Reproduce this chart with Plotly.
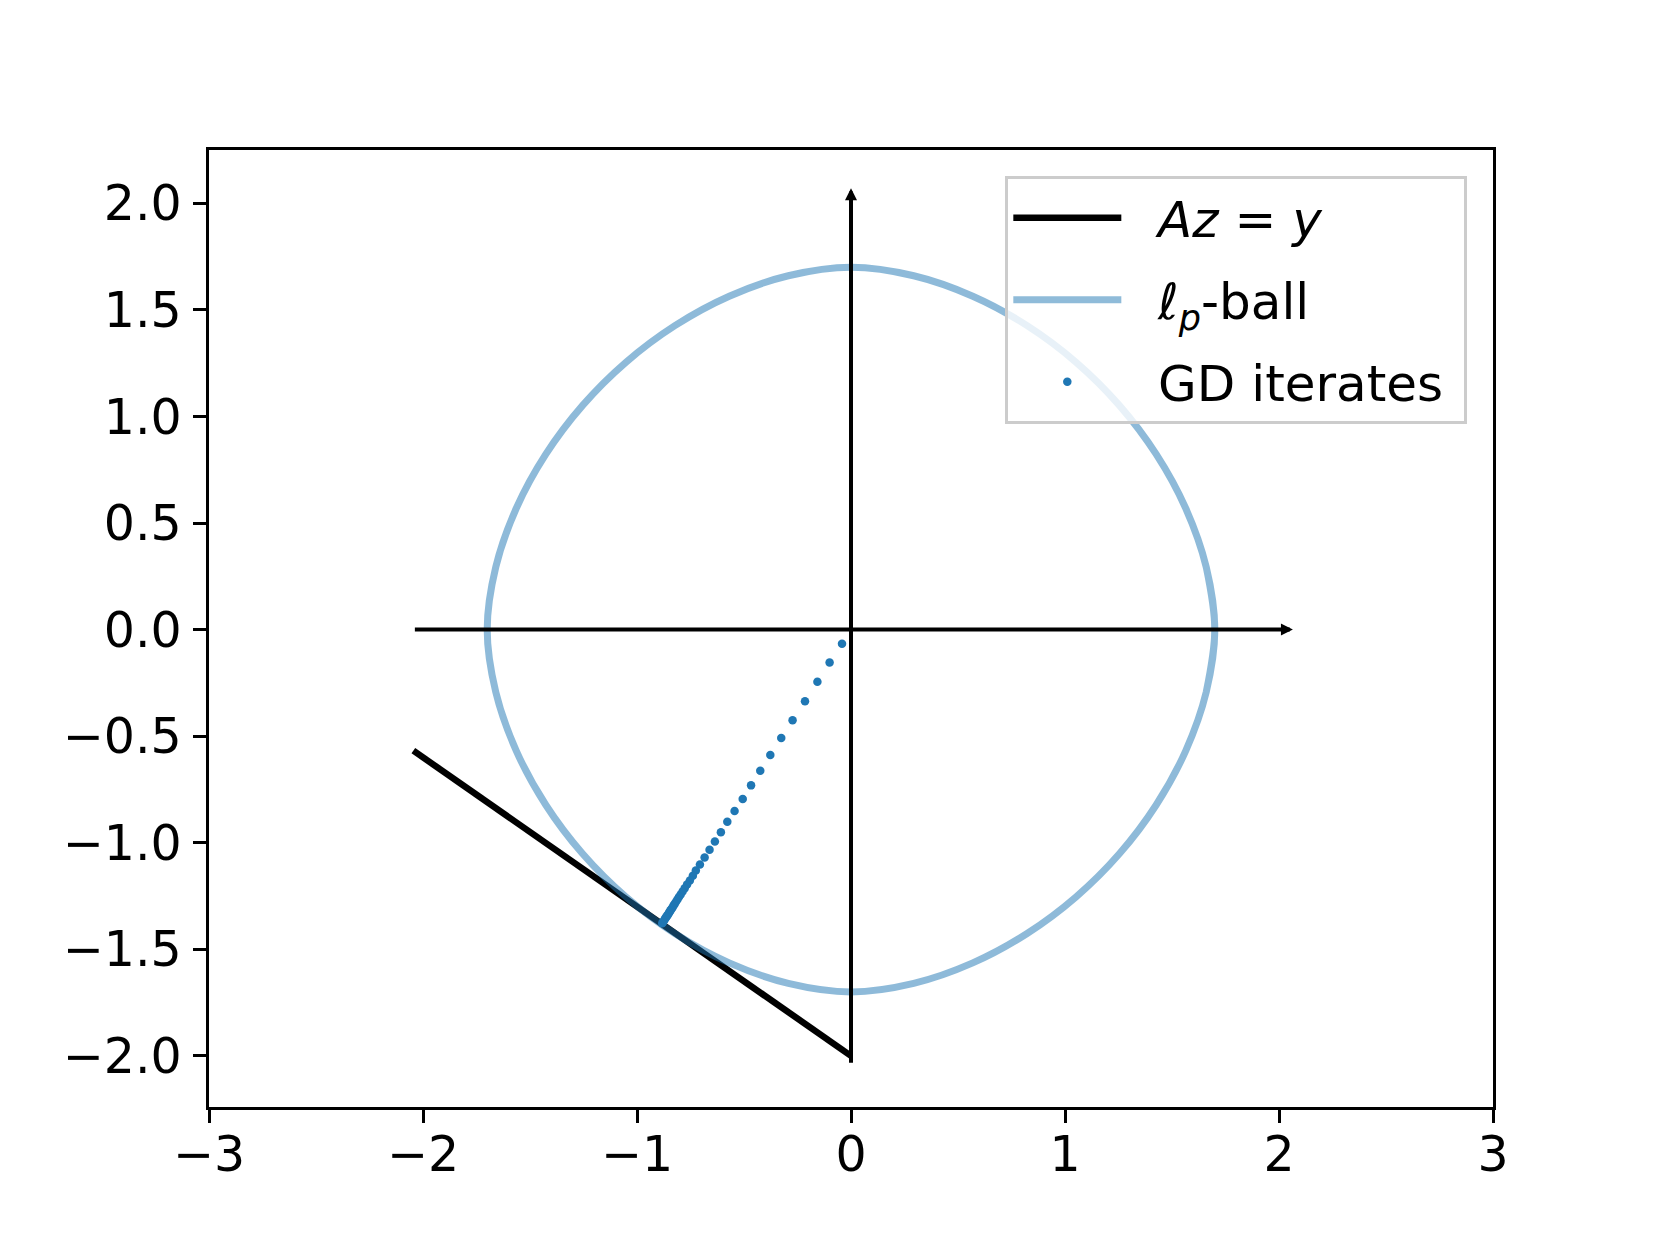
import plotly.graph_objects as go

# constraint line A z = y
line_x = [-2.045, 0.0]
line_y = [-0.568, -2.0]

# l_p ball boundary (10 degree steps)
ball_x = [1.66, 1.7, 1.66, 1.564, 1.426, 1.254, 1.052, 0.823, 0.569, 0.293, 0.0,
          -0.293, -0.569, -0.823, -1.052, -1.254, -1.426, -1.564, -1.66, -1.7,
          -1.66, -1.564, -1.426, -1.254, -1.052, -0.823, -0.569, -0.293, 0.0,
          0.293, 0.569, 0.823, 1.052, 1.254, 1.426, 1.564, 1.66, 1.7, 1.66]
ball_y = [-0.293, 0.0, 0.293, 0.569, 0.823, 1.052, 1.254, 1.426, 1.564, 1.66, 1.7,
          1.66, 1.564, 1.426, 1.254, 1.052, 0.823, 0.569, 0.293, 0.0,
          -0.293, -0.569, -0.823, -1.052, -1.254, -1.426, -1.564, -1.66, -1.7,
          -1.66, -1.564, -1.426, -1.254, -1.052, -0.823, -0.569, -0.293, 0.0, 0.293]

# gradient descent iterates
gd_x = [-0.042, -0.100, -0.157, -0.215, -0.273, -0.326, -0.377, -0.424, -0.467,
        -0.506, -0.544, -0.578, -0.608, -0.636, -0.661, -0.684, -0.706, -0.725,
        -0.739, -0.753, -0.766, -0.777, -0.787, -0.796, -0.804, -0.811, -0.818,
        -0.824, -0.829, -0.834, -0.839, -0.843, -0.847, -0.850, -0.854, -0.857,
        -0.861, -0.865, -0.868, -0.872, -0.875, -0.879, -0.882]
gd_y = [-0.067, -0.155, -0.245, -0.336, -0.425, -0.509, -0.588, -0.662, -0.731,
        -0.795, -0.851, -0.902, -0.951, -0.994, -1.033, -1.069, -1.102, -1.130,
        -1.155, -1.177, -1.196, -1.214, -1.229, -1.243, -1.255, -1.266, -1.277,
        -1.287, -1.295, -1.304, -1.311, -1.317, -1.323, -1.329, -1.334, -1.340,
        -1.345, -1.351, -1.356, -1.362, -1.367, -1.373, -1.378]

# coordinate axis arrows (tail, head)
h_arrow_x = [-2.045, 2.065]
v_arrow_y = [-2.04, 2.07]

x_ticks = [-3, -2, -1, 0, 1, 2, 3]
y_ticks = [-2.0, -1.5, -1.0, -0.5, 0.0, 0.5, 1.0, 1.5, 2.0]
x_range = [-3.0, 3.0]
y_range = [-2.24, 2.25]

gap = '\u00a0\u00a0'
fig = go.Figure()
fig.add_trace(go.Scatter(x=line_x, y=line_y, mode='lines',
                         name=gap + '<i>Az</i> = <i>y</i>',
                         line=dict(color='black', width=6.5), legendgroup='a'))
fig.add_trace(go.Scatter(x=ball_x, y=ball_y, mode='lines',
                         name=gap + '<i>ℓ<sub>p</sub></i>-ball',
                         line=dict(color='#1f77b4', width=7, shape='spline'),
                         opacity=0.5, legendgroup='b'))
fig.add_trace(go.Scatter(x=gd_x, y=gd_y, mode='markers',
                         name=gap + 'GD iterates\u00a0',
                         marker=dict(color='#1f77b4', size=8.5), legendgroup='c'))

arrow = dict(text='', showarrow=True, axref='x', ayref='y', xref='x', yref='y',
             arrowhead=2, arrowsize=0.6, arrowwidth=4, arrowcolor='black', standoff=0)
fig.add_annotation(x=h_arrow_x[1], y=0, ax=h_arrow_x[0], ay=0, **arrow)
fig.add_annotation(x=0, y=v_arrow_y[1], ax=0, ay=v_arrow_y[0], **arrow)

axis_style = dict(showgrid=False, zeroline=False, showline=True, mirror=True,
                  linecolor='black', linewidth=2.9, ticks='outside', ticklen=12.6,
                  tickwidth=2.9, tickcolor='black', automargin=False,
                  tickfont=dict(family='DejaVu Sans', size=49, color='black'))
fig.update_xaxes(range=x_range, tickvals=x_ticks, ticklabelstandoff=-10, **axis_style)
fig.update_yaxes(range=y_range, tickvals=y_ticks, tickformat='.1f',
                 ticklabelstandoff=2, **axis_style)

# page body has an 8px margin, so the figure is shrunk to fit the window
fig.update_layout(
    width=1644, height=1229,
    margin=dict(l=201, r=159, t=142, b=130),
    paper_bgcolor='white', plot_bgcolor='white',
    font=dict(family='DejaVu Sans', size=50, color='black'),
    legend=dict(x=0.98, y=0.973, xanchor='right', yanchor='top',
                bgcolor='rgba(255,255,255,0.8)', bordercolor='#cccccc', borderwidth=3,
                tracegroupgap=14, itemwidth=108),
)

fig.write_html("out.html")
